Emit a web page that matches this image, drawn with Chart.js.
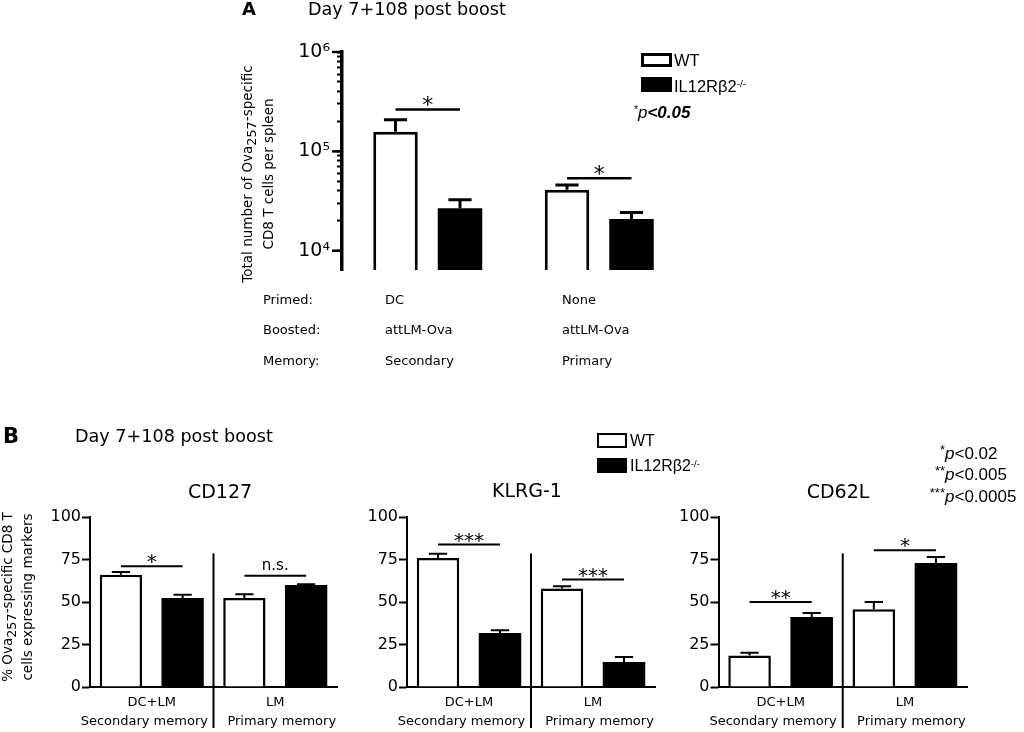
<!DOCTYPE html>
<html><head><meta charset="utf-8">
<script src="https://cdn.jsdelivr.net/npm/chart.js@4.4.1/dist/chart.umd.min.js"></script>
<style>
html,body{margin:0;padding:0;background:#fff;}
#wrap{position:relative;width:1024px;height:732px;overflow:hidden;background:#fff;font-family:"DejaVu Sans",sans-serif;color:#000;}
canvas{position:absolute;left:0;top:0;}
.t{position:absolute;white-space:nowrap;line-height:1;transform:translateY(-50%);}
.t.c{transform:translate(-50%,-50%);}
.r{position:absolute;white-space:nowrap;line-height:1;transform:translate(-50%,-50%) rotate(-90deg);}
.ar{font-family:"Liberation Sans",Arial,sans-serif;}
.box{position:absolute;box-sizing:border-box;border:3px solid #000;}
.sb{position:relative;top:0.3em;font-size:0.95em;}
.sp{position:relative;top:-0.45em;font-size:0.6em;}
.st{position:absolute;right:100%;top:-2px;font-size:13px;}
</style></head><body>
<div id="wrap">
<canvas id="cA" width="1024" height="732"></canvas>
<canvas id="cB1" width="1024" height="732"></canvas>
<canvas id="cB2" width="1024" height="732"></canvas>
<canvas id="cB3" width="1024" height="732"></canvas>

<!-- Panel A texts -->
<div class="t" style="left:242px;top:9px;font-size:18px;font-weight:bold">A</div>
<div class="t" style="left:308px;top:9.5px;font-size:17.6px">Day 7+108 post boost</div>
<div class="r" style="left:248px;top:174px;font-size:13.5px">Total number of Ova<span class="sb">257</span>-specific</div>
<div class="r" style="left:268.5px;top:174px;font-size:13.5px">CD8 T cells per spleen</div>
<div class="box" style="left:641px;top:53px;width:31px;height:14px"></div>
<div class="box" style="left:641px;top:77px;width:31px;height:15px;background:#000"></div>
<div class="t ar" style="left:674px;top:60px;font-size:16.5px">WT</div>
<div class="t ar" style="left:674px;top:85.5px;font-size:16.5px">IL12Rβ2<span class="sp">-/-</span></div>
<div class="t ar" style="left:634px;top:112px;font-size:17px"><span class="sp">*</span><i>p</i><b><i>&lt;0.05</i></b></div>

<div class="t" style="left:263px;top:299px;font-size:13px">Primed:</div>
<div class="t" style="left:385px;top:299px;font-size:13px">DC</div>
<div class="t" style="left:562px;top:299px;font-size:13px">None</div>
<div class="t" style="left:263px;top:329px;font-size:13px">Boosted:</div>
<div class="t" style="left:385px;top:329px;font-size:13px">attLM-Ova</div>
<div class="t" style="left:562px;top:329px;font-size:13px">attLM-Ova</div>
<div class="t" style="left:263px;top:360px;font-size:13px">Memory:</div>
<div class="t" style="left:385px;top:360px;font-size:13px">Secondary</div>
<div class="t" style="left:562px;top:360px;font-size:13px">Primary</div>

<!-- Panel B texts -->
<div class="t" style="left:3px;top:436px;font-size:21px;font-weight:bold">B</div>
<div class="t" style="left:75px;top:437px;font-size:17.6px">Day 7+108 post boost</div>
<div class="t c" style="left:220px;top:491px;font-size:19px">CD127</div>
<div class="t c" style="left:527px;top:490px;font-size:19px">KLRG-1</div>
<div class="t c" style="left:838px;top:491px;font-size:19px">CD62L</div>
<div class="box" style="left:597px;top:433px;width:30px;height:15px;border-width:2.5px"></div>
<div class="box" style="left:597px;top:458px;width:30px;height:15px;background:#000;border-width:2.5px"></div>
<div class="t ar" style="left:630px;top:441px;font-size:16px">WT</div>
<div class="t ar" style="left:630px;top:466px;font-size:16px">IL12Rβ2<span class="sp">-/-</span></div>
<div class="t ar" style="left:945px;top:453px;font-size:17px"><span class="st">*</span><i>p</i>&lt;0.02</div>
<div class="t ar" style="left:945px;top:473.5px;font-size:17px"><span class="st">**</span><i>p</i>&lt;0.005</div>
<div class="t ar" style="left:945px;top:496px;font-size:17px"><span class="st">***</span><i>p</i>&lt;0.0005</div>
<div class="r" style="left:7.5px;top:597px;font-size:13.5px">% Ova<span class="sb">257</span>-specific CD8 T</div>
<div class="r" style="left:27.5px;top:597px;font-size:13.5px">cells expressing markers</div>
</div>

<script>
// ---------------- DATA ----------------
const seriesNames = ['WT', 'IL12Rβ2-/-'];

// Panel A (log scale, cells per spleen)
const categoriesA = ['DC', 'None'];
const wtA = [1.58e5, 4.12e4];
const koA = [2.67e4, 2.09e4];
const wtErrA = [2.08e5, 4.59e4];
const koErrA = [3.25e4, 2.43e4];
const sigA = [2.64e5, 5.36e4];
const sigLabelA = ['*', '*'];
const yMajorA = [1e4, 1e5, 1e6];
const yMajorLabelsA = ['10⁴', '10⁵', '10⁶'];
const yMinorA = [2e4, 3e4, 4e4, 5e4, 6e4, 7e4, 8e4, 9e4, 2e5, 3e5, 4e5, 5e5, 6e5, 7e5, 8e5, 9e5];

// Panel B (% expressing markers)
const categoriesB = ['DC+LM', 'LM'];
const memoryB = ['Secondary memory', 'Primary memory'];
const yTicksB = [0, 25, 50, 75, 100];

const wtCD127 = [66.1, 52.4];
const koCD127 = [52.4, 60.0];
const wtErrCD127 = [67.7, 54.5];
const koErrCD127 = [54.3, 60.4];
const sigCD127 = [71.0, 65.5];
const sigLabelCD127 = ['*', 'n.s.'];

const wtKLRG1 = [75.9, 57.9];
const koKLRG1 = [31.8, 14.7];
const wtErrKLRG1 = [78.4, 59.2];
const koErrKLRG1 = [33.4, 17.6];
const sigKLRG1 = [83.8, 63.2];
const sigLabelKLRG1 = ['***', '***'];

const wtCD62L = [18.6, 45.7];
const koCD62L = [41.2, 72.9];
const wtErrCD62L = [20.2, 50.0];
const koErrCD62L = [43.5, 76.5];
const sigCD62L = [50.0, 80.4];
const sigLabelCD62L = ['**', '*'];

// ---------------- RENDER ----------------
Chart.defaults.font.family = '"DejaVu Sans", sans-serif';
Chart.defaults.color = '#000';

const annot = {
  id: 'annot',
  afterDatasetsDraw(chart, args, o) {
    const ctx = chart.ctx, ys = chart.scales.y, xs = chart.scales.x, ca = chart.chartArea;
    ctx.save();
    ctx.strokeStyle = '#000';
    ctx.fillStyle = '#000';
    ctx.lineCap = 'butt';
    // error bars (upper only)
    o.errors.forEach((errs, di) => {
      const meta = chart.getDatasetMeta(di);
      meta.data.forEach((bar, j) => {
        const yTop = ys.getPixelForValue(errs[j]);
        const cw = bar.width * o.capRatio;
        ctx.lineWidth = o.errWidth;
        ctx.beginPath();
        ctx.moveTo(bar.x, bar.y);
        ctx.lineTo(bar.x, yTop);
        ctx.moveTo(bar.x - cw / 2, yTop);
        ctx.lineTo(bar.x + cw / 2, yTop);
        ctx.stroke();
      });
    });
    // significance brackets
    const m0 = chart.getDatasetMeta(0), m1 = chart.getDatasetMeta(1);
    o.sig.forEach((v, j) => {
      const y = ys.getPixelForValue(v);
      const x0 = m0.data[j].x, x1 = m1.data[j].x;
      ctx.lineWidth = o.sigWidth;
      ctx.beginPath();
      ctx.moveTo(x0, y);
      ctx.lineTo(x1, y);
      ctx.stroke();
      const lbl = o.sigLabels[j];
      ctx.textAlign = 'center';
      ctx.textBaseline = 'alphabetic';
      if (/^\*+$/.test(lbl)) {
        ctx.font = o.starFont;
        ctx.fillText(lbl, (x0 + x1) / 2, y + o.starDy);
      } else {
        ctx.font = o.textFont;
        ctx.fillText(lbl, (x0 + x1) / 2, y - o.textDy);
      }
    });
    // category divider
    if (o.divider) {
      const xd = (xs.getPixelForTick(0) + xs.getPixelForTick(1)) / 2;
      ctx.lineWidth = 2;
      ctx.beginPath();
      ctx.moveTo(xd, ys.getPixelForValue(o.divider.top));
      ctx.lineTo(xd, ca.bottom + o.divider.below);
      ctx.stroke();
    }
    // longer major ticks on the log axis
    if (o.majorTicks) {
      ctx.lineWidth = o.majorWidth;
      o.majorTicks.forEach(v => {
        const y = ys.getPixelForValue(v);
        ctx.beginPath();
        ctx.moveTo(ca.left - o.majorLen, y);
        ctx.lineTo(ca.left, y);
        ctx.stroke();
      });
    }
    ctx.restore();
  }
};

// Panel A
(function () {
  const left = 342, right = 685, top = 52, bottom = 270, W = 60;
  new Chart(document.getElementById('cA'), {
    type: 'bar',
    data: {
      labels: categoriesA,
      datasets: [
        { label: seriesNames[0], data: wtA, backgroundColor: '#fff', borderColor: '#000', borderWidth: 3 },
        { label: seriesNames[1], data: koA, backgroundColor: '#000', borderColor: '#000', borderWidth: 0 }
      ]
    },
    options: {
      responsive: false, animation: false,
      categoryPercentage: 0.752, barPercentage: 0.69,
      layout: { padding: { left: left - W, right: 1024 - right, top: top, bottom: 732 - bottom } },
      plugins: {
        legend: { display: false }, tooltip: { enabled: false },
        annot: {
          errors: [wtErrA, koErrA], capRatio: 0.52, errWidth: 3,
          sig: sigA, sigLabels: sigLabelA, sigWidth: 2.5,
          starFont: '22px "DejaVu Sans"', starDy: 3, textFont: '15px "DejaVu Sans"', textDy: 6,
          majorTicks: yMajorA, majorLen: 10, majorWidth: 2.5
        }
      },
      scales: {
        x: { display: false },
        y: {
          type: 'logarithmic', min: 6400, max: 1e6,
          afterFit(s) { s.width = W; },
          afterBuildTicks(s) {
            s.ticks = yMajorA.concat(yMinorA).sort((a, b) => a - b).map(v => ({ value: v }));
          },
          grid: { display: true, drawOnChartArea: false, drawTicks: true, tickLength: 5, tickWidth: 2, color: '#000', tickColor: '#000' },
          border: { display: true, width: 3.5, color: '#000' },
          ticks: {
            autoSkip: false, padding: 7, color: '#000', font: { size: 19 },
            callback: (v) => { const i = yMajorA.indexOf(v); return i >= 0 ? yMajorLabelsA[i] : ''; }
          }
        }
      }
    },
    plugins: [annot]
  });
})();

// Panel B
function panelB(id, left, right, wt, ko, wtErr, koErr, sig, sigLbl) {
  const W = 40, XH1 = 24, XH2 = 21, top = 517, bottom = 687;
  return new Chart(document.getElementById(id), {
    type: 'bar',
    data: {
      labels: categoriesB,
      datasets: [
        { label: seriesNames[0], data: wt, backgroundColor: '#fff', borderColor: '#000', borderWidth: 2.5 },
        { label: seriesNames[1], data: ko, backgroundColor: '#000', borderColor: '#000', borderWidth: 0 }
      ]
    },
    options: {
      responsive: false, animation: false,
      categoryPercentage: 1.0, barPercentage: 0.685,
      layout: { padding: { left: left - W, right: 1024 - right, top: top, bottom: 732 - bottom - XH1 - XH2 } },
      plugins: {
        legend: { display: false }, tooltip: { enabled: false },
        annot: {
          errors: [wtErr, koErr], capRatio: 0.43, errWidth: 2,
          sig: sig, sigLabels: sigLbl, sigWidth: 2,
          starFont: '20px "DejaVu Sans"', starDy: 2, textFont: '15px "DejaVu Sans"', textDy: 6,
          divider: { top: 78.6, below: 41 }
        }
      },
      scales: {
        x: {
          type: 'category', offset: true, position: 'bottom',
          afterFit(s) { s.height = XH1; },
          grid: { display: false, drawTicks: false },
          border: { display: true, width: 2, color: '#000' },
          ticks: {
            padding: 8, maxRotation: 0, autoSkip: false, color: '#000',
            font: { size: 13, lineHeight: 1.15 }
          }
        },
        x2: {
          type: 'linear', position: 'bottom', offset: false, min: 0.605, max: 2.402,
          afterFit(s) { s.height = XH2; },
          afterBuildTicks(s) { s.ticks = [{ value: 1 }, { value: 2 }]; },
          grid: { display: false, drawTicks: false, offset: false },
          border: { display: false },
          ticks: {
            padding: 3, maxRotation: 0, autoSkip: false, color: '#000',
            font: { size: 13, lineHeight: 1.15 },
            callback: (v) => memoryB[v - 1]
          }
        },
        y: {
          min: 0, max: 100,
          afterFit(s) { s.width = W; },
          afterBuildTicks(s) { s.ticks = yTicksB.map(v => ({ value: v })); },
          grid: { display: true, drawOnChartArea: false, drawTicks: true, tickLength: 8, tickWidth: 2, color: '#000', tickColor: '#000' },
          border: { display: true, width: 2, color: '#000' },
          ticks: { padding: 1, color: '#000', font: { size: 16 }, autoSkip: false }
        }
      }
    },
    plugins: [annot]
  });
}

panelB('cB1', 90, 337, wtCD127, koCD127, wtErrCD127, koErrCD127, sigCD127, sigLabelCD127);
panelB('cB2', 407, 655, wtKLRG1, koKLRG1, wtErrKLRG1, koErrKLRG1, sigKLRG1, sigLabelKLRG1);
panelB('cB3', 718.5, 967, wtCD62L, koCD62L, wtErrCD62L, koErrCD62L, sigCD62L, sigLabelCD62L);
</script>
</body></html>
